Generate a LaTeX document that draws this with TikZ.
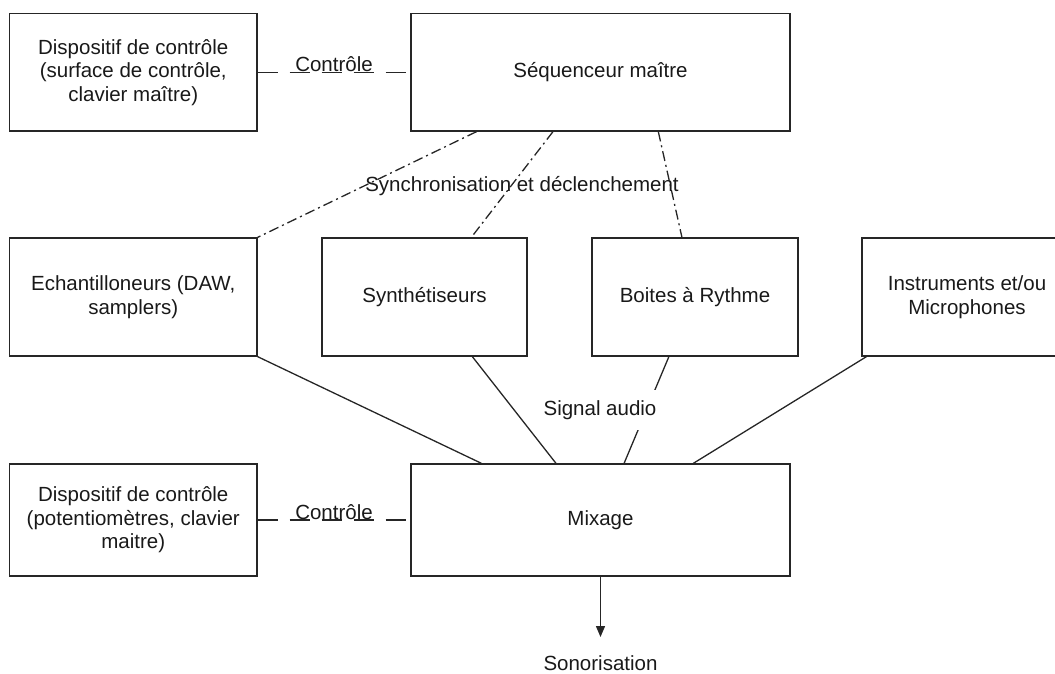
\documentclass[tikz,border=0pt]{standalone}
\usepackage{fontspec}
\setmainfont{Liberation Sans}
\usetikzlibrary{calc,arrows.meta}
\begin{document}
\begin{tikzpicture}[x=1pt,y=-1pt,
  box/.style={draw=black!85, line width=1.3pt, rectangle, inner sep=0pt, align=center, text=black!90, font=\fontsize{20.5}{23.5}\selectfont},
  lbl/.style={font=\fontsize{20.5}{23.5}\selectfont, text=black!90, inner sep=0pt},
  ctrl/.style={draw=black!85, line width=1.3pt, dash pattern=on 20pt off 12pt},
  sync/.style={draw=black!85, line width=1.3pt, dash pattern=on 10pt off 4pt on 2pt off 4pt},
  audio/.style={draw=black!85, line width=1.3pt}]
\path[use as bounding box] (0,0) rectangle (1055,673);
\clip (0,0) rectangle (1055,673);
% boxes
\node[box, minimum width=247.5pt, minimum height=117.5pt] (ctl1) at (133.25,72.25) {Dispositif de contrôle\\(surface de contrôle,\\clavier maître)};
\node[box, minimum width=379pt, minimum height=117.5pt] (seq) at (600.5,72.25) {Séquenceur maître};
\node[box, minimum width=247.5pt, minimum height=118pt] (ech) at (133.25,297) {Echantilloneurs (DAW,\\samplers)};
\node[box, minimum width=205pt, minimum height=118pt] (syn) at (424.5,297) {Synthétiseurs};
\node[box, minimum width=206pt, minimum height=118pt] (rth) at (695,297) {Boites à Rythme};
\node[box, minimum width=210pt, minimum height=118pt] (ins) at (967,297) {Instruments et/ou\\Microphones};
\node[box, minimum width=247.5pt, minimum height=112pt] (ctl2) at (133.25,520) {Dispositif de contrôle\\(potentiomètres, clavier\\maitre)};
\node[box, minimum width=379pt, minimum height=112pt] (mix) at (600.5,520) {Mixage};
\node[lbl] (son) at (600.5,663) {Sonorisation};
\coordinate (tip) at (600.5,637);
% control lines
\draw[ctrl] (ctl1.east) -- node[lbl, anchor=base, yshift=1pt] (c1lab) {Contrôle} (seq.west);
\draw[ctrl] (ctl2.east) -- node[lbl, anchor=base, yshift=1pt] (c2lab) {Contrôle} (mix.west);
% sync lines
\draw[sync] ($(seq.south west)!0.174!(seq.south east)$) -- (ech.north east);
\draw[sync] ($(seq.south west)!0.375!(seq.south east)$) -- ($(syn.north west)!0.727!(syn.north east)$);
\draw[sync] ($(seq.south west)!0.652!(seq.south east)$) -- ($(rth.north west)!0.437!(rth.north east)$);
\node[lbl] (synclab) at (522,186) {Synchronisation et déclenchement};
% audio lines
\draw[audio] (ech.south east) -- ($(mix.north west)!0.187!(mix.north east)$);
\draw[audio] ($(syn.south west)!0.732!(syn.south east)$) -- ($(mix.north west)!0.383!(mix.north east)$);
\draw[audio] ($(rth.south west)!0.374!(rth.south east)$) -- ($(mix.north west)!0.562!(mix.north east)$);
\draw[audio] ($(ins.south west)!0.024!(ins.south east)$) -- ($(mix.north west)!0.744!(mix.north east)$);
\node[lbl, fill=white, inner xsep=4pt, inner ysep=10pt] (siglab) at (600,410) {Signal audio};
% output
\draw[audio, -{Triangle[width=9pt,length=11pt]}] (mix.south) -- (tip);
\end{tikzpicture}
\end{document}
